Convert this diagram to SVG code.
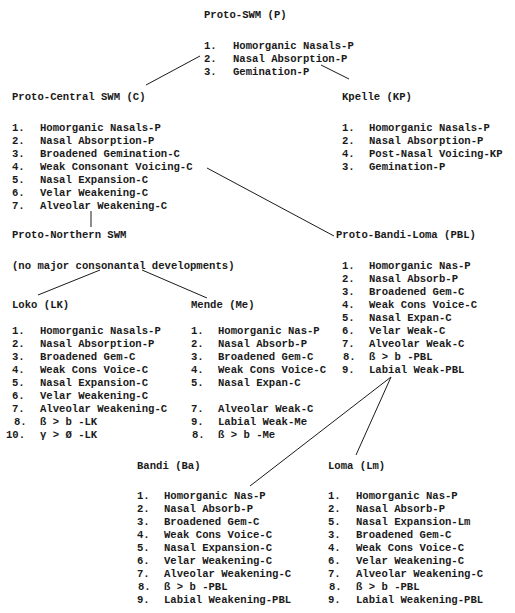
<svg xmlns="http://www.w3.org/2000/svg" width="515" height="613" viewBox="0 0 515 613">
<style>
text{font-family:"Liberation Mono","Courier New",monospace;font-size:10.6px;font-weight:bold;fill:#1a1a1a}
.c line{stroke:#1a1a1a;stroke-width:1;fill:none}
</style>
<rect width="515" height="613" fill="#fff"/>
<g class="c" id="connectors">
<line x1="200" y1="56" x2="146" y2="85"/>
<line x1="321" y1="65" x2="349" y2="79"/>
<line x1="207" y1="168" x2="334" y2="236"/>
<line x1="91" y1="211" x2="91" y2="227"/>
<line x1="100" y1="270" x2="38" y2="295"/>
<line x1="142" y1="270" x2="207" y2="298"/>
<line x1="391" y1="377" x2="250" y2="486"/>
<line x1="391" y1="377" x2="356" y2="455"/>
</g>
<g id="proto-swm">
<text x="204" y="18">Proto-SWM (P)</text>
<text x="204" y="49">1.</text><text x="233" y="49">Homorganic Nasals-P</text>
<text x="204" y="62">2.</text><text x="233" y="62">Nasal Absorption-P</text>
<text x="204" y="75">3.</text><text x="233" y="75">Gemination-P</text>
</g>
<g id="proto-central">
<text x="12" y="100">Proto-Central SWM (C)</text>
<text x="12" y="131">1.</text><text x="40" y="131">Homorganic Nasals-P</text>
<text x="12" y="144">2.</text><text x="40" y="144">Nasal Absorption-P</text>
<text x="12" y="157">3.</text><text x="40" y="157">Broadened Gemination-C</text>
<text x="12" y="170">4.</text><text x="40" y="170">Weak Consonant Voicing-C</text>
<text x="12" y="183">5.</text><text x="40" y="183">Nasal Expansion-C</text>
<text x="12" y="196">6.</text><text x="40" y="196">Velar Weakening-C</text>
<text x="12" y="209">7.</text><text x="40" y="209">Alveolar Weakening-C</text>
</g>
<g id="kpelle">
<text x="342" y="100">Kpelle (KP)</text>
<text x="342" y="131">1.</text><text x="369" y="131">Homorganic Nasals-P</text>
<text x="342" y="144">2.</text><text x="369" y="144">Nasal Absorption-P</text>
<text x="342" y="157">4.</text><text x="369" y="157">Post-Nasal Voicing-KP</text>
<text x="342" y="170">3.</text><text x="369" y="170">Gemination-P</text>
</g>
<g id="proto-northern">
<text x="12" y="238">Proto-Northern SWM</text>
<text x="12" y="269">(no major consonantal developments)</text>
</g>
<g id="proto-bandi-loma">
<text x="336" y="238">Proto-Bandi-Loma (PBL)</text>
<text x="342" y="269">1.</text><text x="369" y="269">Homorganic Nas-P</text>
<text x="342" y="282">2.</text><text x="369" y="282">Nasal Absorb-P</text>
<text x="342" y="295">3.</text><text x="369" y="295">Broadened Gem-C</text>
<text x="342" y="308">4.</text><text x="369" y="308">Weak Cons Voice-C</text>
<text x="342" y="321">5.</text><text x="369" y="321">Nasal Expan-C</text>
<text x="342" y="334">6.</text><text x="369" y="334">Velar Weak-C</text>
<text x="342" y="347">7.</text><text x="369" y="347">Alveolar Weak-C</text>
<text x="343" y="360">8.</text><text x="369" y="360">ß &gt; b -PBL</text>
<text x="342" y="373">9.</text><text x="369" y="373">Labial Weak-PBL</text>
</g>
<g id="loko">
<text x="12" y="308">Loko (LK)</text>
<text x="12" y="334">1.</text><text x="40" y="334">Homorganic Nasals-P</text>
<text x="12" y="347">2.</text><text x="40" y="347">Nasal Absorption-P</text>
<text x="12" y="360">3.</text><text x="40" y="360">Broadened Gem-C</text>
<text x="12" y="373">4.</text><text x="40" y="373">Weak Cons Voice-C</text>
<text x="12" y="386">5.</text><text x="40" y="386">Nasal Expansion-C</text>
<text x="12" y="399">6.</text><text x="40" y="399">Velar Weakening-C</text>
<text x="12" y="412">7.</text><text x="40" y="412">Alveolar Weakening-C</text>
<text x="14" y="425">8.</text><text x="40" y="425">ß &gt; b -LK</text>
<text x="6" y="438">10.</text><text x="40" y="438">γ &gt; Ø -LK</text>
</g>
<g id="mende">
<text x="191" y="308">Mende (Me)</text>
<text x="191" y="334">1.</text><text x="218" y="334">Homorganic Nas-P</text>
<text x="191" y="347">2.</text><text x="218" y="347">Nasal Absorb-P</text>
<text x="191" y="360">3.</text><text x="218" y="360">Broadened Gem-C</text>
<text x="191" y="373">4.</text><text x="218" y="373">Weak Cons Voice-C</text>
<text x="191" y="386">5.</text><text x="218" y="386">Nasal Expan-C</text>
<text x="191" y="412">7.</text><text x="218" y="412">Alveolar Weak-C</text>
<text x="191" y="425">9.</text><text x="218" y="425">Labial Weak-Me</text>
<text x="192" y="438">8.</text><text x="218" y="438">ß &gt; b -Me</text>
</g>
<g id="bandi">
<text x="137" y="469">Bandi (Ba)</text>
<text x="137" y="499">1.</text><text x="164" y="499">Homorganic Nas-P</text>
<text x="137" y="512">2.</text><text x="164" y="512">Nasal Absorb-P</text>
<text x="137" y="525">3.</text><text x="164" y="525">Broadened Gem-C</text>
<text x="137" y="538">4.</text><text x="164" y="538">Weak Cons Voice-C</text>
<text x="137" y="551">5.</text><text x="164" y="551">Nasal Expansion-C</text>
<text x="137" y="564">6.</text><text x="164" y="564">Velar Weakening-C</text>
<text x="137" y="577">7.</text><text x="164" y="577">Alveolar Weakening-C</text>
<text x="138" y="590">8.</text><text x="164" y="590">ß &gt; b -PBL</text>
<text x="137" y="603">9.</text><text x="164" y="603">Labial Weakening-PBL</text>
</g>
<g id="loma">
<text x="328" y="469">Loma (Lm)</text>
<text x="328" y="499">1.</text><text x="356" y="499">Homorganic Nas-P</text>
<text x="328" y="512">2.</text><text x="356" y="512">Nasal Absorb-P</text>
<text x="328" y="525">5.</text><text x="356" y="525">Nasal Expansion-Lm</text>
<text x="328" y="538">3.</text><text x="356" y="538">Broadened Gem-C</text>
<text x="328" y="551">4.</text><text x="356" y="551">Weak Cons Voice-C</text>
<text x="328" y="564">6.</text><text x="356" y="564">Velar Weakening-C</text>
<text x="328" y="577">7.</text><text x="356" y="577">Alveolar Weakening-C</text>
<text x="329" y="590">8.</text><text x="356" y="590">ß &gt; b -PBL</text>
<text x="328" y="603">9.</text><text x="356" y="603">Labial Weakening-PBL</text>
</g>
</svg>
